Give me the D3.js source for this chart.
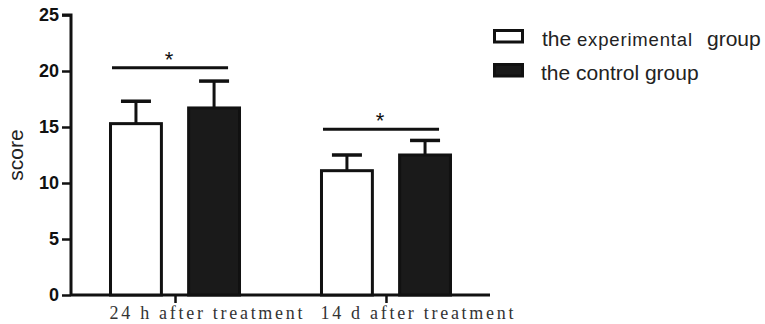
<!DOCTYPE html>
<html>
<head>
<meta charset="utf-8">
<script src="https://cdn.jsdelivr.net/npm/d3@7"></script>
<style>
  html, body { margin: 0; padding: 0; background: #ffffff; }
  svg { display: block; }
</style>
</head>
<body>
<svg id="chart" width="765" height="324"></svg>
<script>
// ---- data ----
const categories = ["24 h after treatment", "14 d after treatment"];
const series = ["the experimental group", "the control group"];
const means = [[15.3, 16.7], [11.1, 12.5]];        // [category][series]
const errors = [[2.0, 2.4], [1.4, 1.3]];           // upward SD
const yTicks = [0, 5, 10, 15, 20, 25];
const sigLevels = [20.3, 14.8];                     // bracket heights
const sigLabels = ["*", "*"];
const yLabel = "score";

(function () {
// ---- layout ----
const svg = d3.select("#chart");
const pl = 71, pr = 490, pt = 15, pb = 295;
const ink = "#111111";

const y = d3.scaleLinear().domain([0, 25]).range([pb, pt]);
const x = d3.scalePoint().domain(categories).range([pl, pr]).padding(0.493);
const xs = d3.scaleBand().domain(series).range([-66, 66]).paddingInner(0.31).paddingOuter(0);
const bw = xs.bandwidth();

// y axis
const yAxis = d3.axisLeft(y).tickValues(yTicks).tickSize(9).tickPadding(3).tickFormat(d3.format("d"));
const gy = svg.append("g").attr("transform", `translate(${pl},0)`).call(yAxis);
gy.select(".domain").attr("stroke", ink).attr("stroke-width", 3).attr("d", `M-9,${pt}H0V${pb}`);
gy.selectAll(".tick line").attr("stroke", ink).attr("stroke-width", 2.5);
gy.selectAll(".tick text")
  .attr("fill", ink)
  .style("font-family", "'Liberation Sans', Arial, sans-serif")
  .style("font-weight", "bold")
  .style("font-size", "18px");

// x axis
const xAxis = d3.axisBottom(x).tickSize(8).tickFormat("");
const gx = svg.append("g").attr("transform", `translate(0,${pb})`).call(xAxis);
gx.select(".domain").attr("stroke", ink).attr("stroke-width", 3).attr("d", `M${pl},0H${pr}`);
gx.selectAll(".tick line").attr("stroke", ink).attr("stroke-width", 2.5);

// x category labels
svg.append("g").selectAll("text").data(categories).join("text")
  .attr("x", d => x(d) + 31)
  .attr("y", 319)
  .attr("text-anchor", "middle")
  .attr("textLength", 193)
  .attr("lengthAdjust", "spacing")
  .attr("fill", "#333")
  .style("font-family", "'Liberation Serif', 'DejaVu Serif', serif")
  .style("font-size", "18px")
  .text(d => d);

// y label
svg.append("text")
  .attr("transform", "translate(23,155) rotate(-90)")
  .attr("text-anchor", "middle")
  .attr("fill", "#222")
  .style("font-family", "'Liberation Sans', Arial, sans-serif")
  .style("font-size", "21px")
  .text(yLabel);

// bars
const barData = [];
categories.forEach((c, i) => series.forEach((s, j) => {
  barData.push({ c, s, j, v: means[i][j], e: errors[i][j] });
}));

const gb = svg.append("g");
gb.selectAll("line.err").data(barData).join("line")
  .attr("class", "err")
  .attr("x1", d => x(d.c) + xs(d.s) + bw / 2)
  .attr("x2", d => x(d.c) + xs(d.s) + bw / 2)
  .attr("y1", d => y(d.v))
  .attr("y2", d => y(d.v + d.e))
  .attr("stroke", ink).attr("stroke-width", 3);
gb.selectAll("line.cap").data(barData).join("line")
  .attr("class", "cap")
  .attr("x1", d => x(d.c) + xs(d.s) + bw / 2 - 15)
  .attr("x2", d => x(d.c) + xs(d.s) + bw / 2 + 15)
  .attr("y1", d => y(d.v + d.e))
  .attr("y2", d => y(d.v + d.e))
  .attr("stroke", ink).attr("stroke-width", 3.5);
gb.selectAll("rect").data(barData).join("rect")
  .attr("x", d => x(d.c) + xs(d.s) + 1.5)
  .attr("y", d => y(d.v))
  .attr("width", bw - 3)
  .attr("height", d => y(0) - y(d.v))
  .attr("fill", d => d.j === 0 ? "#ffffff" : "#1a1a1a")
  .attr("stroke", ink).attr("stroke-width", 3);

// significance brackets
const gs = svg.append("g");
gs.selectAll("line").data(categories).join("line")
  .attr("x1", d => x(d) + xs(series[0]) + 3)
  .attr("x2", d => x(d) + xs(series[1]) + bw / 2 + 14)
  .attr("y1", (d, i) => y(sigLevels[i]))
  .attr("y2", (d, i) => y(sigLevels[i]))
  .attr("stroke", ink).attr("stroke-width", 3);
gs.selectAll("text").data(categories).join("text")
  .attr("x", d => x(d) - 6)
  .attr("y", (d, i) => y(sigLevels[i]) - 1)
  .attr("text-anchor", "middle")
  .attr("fill", ink)
  .style("font-family", "'Liberation Sans', Arial, sans-serif")
  .style("font-size", "22px")
  .text((d, i) => sigLabels[i]);

// legend
const leg = svg.append("g");
series.forEach((s, j) => {
  const yy = 29 + j * 34;
  leg.append("rect")
    .attr("x", 494.5).attr("y", yy + 1.5)
    .attr("width", 28).attr("height", 11.5)
    .attr("fill", j === 0 ? "#ffffff" : "#1a1a1a")
    .attr("stroke", ink).attr("stroke-width", 3);
  if (j === 0) {
    const parts = s.split(" ");
    const xsPos = [542, 577, 707];
    const sizes = [21, 18.5, 21];
    const lens = [null, 115, null];
    parts.forEach((p, k) => {
      const t = leg.append("text")
        .attr("x", xsPos[k]).attr("y", yy + 17)
        .attr("fill", "#222")
        .style("font-family", "'Liberation Sans', Arial, sans-serif")
        .style("font-size", sizes[k] + "px")
        .text(p);
      if (lens[k]) t.attr("textLength", lens[k]).attr("lengthAdjust", "spacing");
    });
  } else {
    leg.append("text")
      .attr("x", 541).attr("y", yy + 17)
      .attr("fill", "#222")
      .style("font-family", "'Liberation Sans', Arial, sans-serif")
      .style("font-size", "21px")
      .text(s);
  }
});
})();
</script>
</body>
</html>
